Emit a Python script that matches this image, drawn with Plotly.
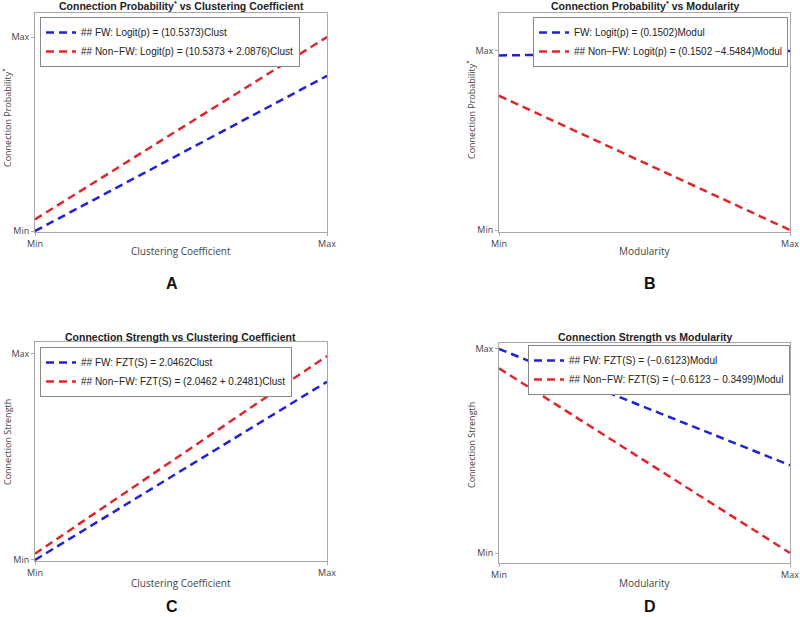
import plotly.graph_objects as go

# ---- data (normalised Min=0 .. Max=1) ----
x_vals = [0, 1]
tick_vals = [0, 1]
tick_text = ["Min", "Max"]

A_fw = [0.0, 0.80]
A_nonfw = [0.06, 1.0]
B_fw = [0.975, 1.0]
B_nonfw = [0.75, 0.0]
C_fw = [0.0, 0.865]
C_nonfw = [0.03, 0.99]
D_fw = [1.0, 0.43]
D_nonfw = [0.905, 0.0]

A_names = ["## FW: Logit(p) = (10.5373)Clust",
           "## Non−FW: Logit(p) = (10.5373 + 2.0876)Clust"]
B_names = ["FW: Logit(p) = (0.1502)Modul",
           "## Non−FW: Logit(p) = (0.1502 −4.5484)Modul"]
C_names = ["## FW: FZT(S) = 2.0462Clust",
           "## Non−FW: FZT(S) = (2.0462 + 0.2481)Clust"]
D_names = ["## FW: FZT(S) = (−0.6123)Modul",
           "## Non−FW: FZT(S) = (−0.6123 − 0.3499)Modul"]

titles = ["Connection Probability<sup>*</sup> vs Clustering Coefficient",
          "Connection Probability<sup>*</sup> vs Modularity",
          "Connection Strength vs Clustering Coefficient",
          "Connection Strength vs Modularity"]
xtitles = ["Clustering Coefficient", "Modularity", "Clustering Coefficient", "Modularity"]
ytitles = ["Connection Probability<sup>*</sup>", "Connection Probability<sup>*</sup>",
           "Connection Strength", "Connection Strength"]
letters = ["A", "B", "C", "D"]

W, H = 800, 617
BLUE = "#1f22d6"
RED = "#e0262b"

# panel pixel boxes: x0, x1, ytop, ybottom ; y-range
panels = [
    dict(x=(35, 327), y=(13, 232), yr=(-0.005, 1.124), data=(A_fw, A_nonfw), names=A_names,
         leg=(40, 17, "left"), tx=181, ty=6, ytx=7, yty=118, xty=251, lx=172, ly=283),
    dict(x=(499, 790), y=(12.5, 232), yr=(-0.011, 1.215), data=(B_fw, B_nonfw), names=B_names,
         leg=(788, 17, "right"), tx=645, ty=6, ytx=471, yty=110, xty=251, lx=650, ly=283),
    dict(x=(35, 327), y=(342, 561), yr=(-0.005, 1.058), data=(C_fw, C_nonfw), names=C_names,
         leg=(40, 347, "left"), tx=180, ty=337, ytx=7, yty=442, xty=583, lx=172, ly=606),
    dict(x=(499, 790), y=(343, 563), yr=(-0.049, 1.029), data=(D_fw, D_nonfw), names=D_names,
         leg=(790, 345, "right"), tx=645, ty=337, ytx=472, yty=445, xty=583, lx=650, ly=606),
]

fig = go.Figure()
ann = []
FONT = "Open Sans"
for i, p in enumerate(panels):
    k = "" if i == 0 else str(i + 1)
    legname = "legend" + k
    for series, name, col in zip(p["data"], p["names"], [BLUE, RED]):
        fig.add_trace(go.Scatter(
            x=x_vals, y=series, mode="lines", name=name,
            line=dict(color=col, width=2.5, dash="8px,5px"),
            xaxis="x" + k, yaxis="y" + k, legend=legname, showlegend=True))
    axcommon = dict(showline=True, mirror=True, linecolor="#a8a8a8", linewidth=1,
                    showgrid=False, zeroline=False, ticks="outside", ticklen=3,
                    tickcolor="#a8a8a8", tickvals=tick_vals, ticktext=tick_text,
                    automargin=False,
                    tickfont=dict(family=FONT, size=9, color="#444"))
    fig.update_layout(**{
        "xaxis" + k: dict(domain=[p["x"][0] / W, p["x"][1] / W], range=[0, 1],
                          anchor="y" + k, **axcommon),
        "yaxis" + k: dict(domain=[1 - p["y"][1] / H, 1 - p["y"][0] / H], range=list(p["yr"]),
                          anchor="x" + k, **axcommon),
        legname: dict(x=p["leg"][0] / W, y=1 - p["leg"][1] / H, xanchor=p["leg"][2], yanchor="top",
                      xref="paper", yref="paper", bgcolor="white", bordercolor="#888",
                      borderwidth=1, font=dict(family="Liberation Sans", size=10, color="#222"),
                      itemwidth=30, tracegroupgap=0),
    })
    cx = (p["x"][0] + p["x"][1]) / 2
    ann.append(dict(text="<b>" + titles[i] + "</b>", x=p["tx"] / W, y=1 - p["ty"] / H,
                    xref="paper", yref="paper", showarrow=False, xanchor="center", yanchor="middle",
                    font=dict(family="Liberation Sans", size=10.5, color="#222")))
    ann.append(dict(text=xtitles[i], x=cx / W, y=1 - p["xty"] / H, xref="paper", yref="paper",
                    showarrow=False, xanchor="center", yanchor="middle",
                    font=dict(family=FONT, size=10, color="#444")))
    ann.append(dict(text=ytitles[i], x=p["ytx"] / W, y=1 - p["yty"] / H, xref="paper", yref="paper",
                    showarrow=False, xanchor="center", yanchor="middle", textangle=-90,
                    font=dict(family=FONT, size=9, color="#444")))
    ann.append(dict(text="<b>" + letters[i] + "</b>", x=p["lx"] / W, y=1 - p["ly"] / H,
                    xref="paper", yref="paper", showarrow=False, xanchor="center", yanchor="middle",
                    font=dict(family="Liberation Sans", size=16, color="#111")))

fig.update_layout(width=W, height=H, margin=dict(l=0, r=0, t=0, b=0, autoexpand=False),
                  paper_bgcolor="white", plot_bgcolor="white", annotations=ann)
fig.write_html("out.html", config={"displayModeBar": False},
               post_script="document.body.style.margin='0';")
